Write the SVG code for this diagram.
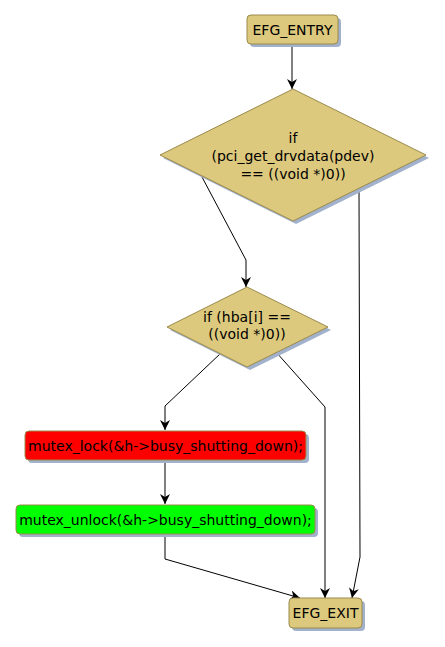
<svg xmlns="http://www.w3.org/2000/svg" width="445" height="647" viewBox="0 0 445 647">
<style>
.t{font-family:"DejaVu Sans",sans-serif;font-size:14px;fill:#000;text-anchor:middle}
.tl{font-family:"DejaVu Sans",sans-serif;font-size:14px;fill:#000}
.n{fill:#dcc97d;stroke:#9a8a4c;stroke-width:1}
.s{fill:#a3b2cc}
.c{fill:none;stroke:#000;stroke-width:1}
</style>
<defs>
<marker id="a" markerWidth="12" markerHeight="12" refX="10" refY="5" orient="auto" markerUnits="userSpaceOnUse">
<path d="M0,0 L10,5 L0,10 L3,5 Z" fill="#000"/>
</marker>
</defs>
<g id="connectors">
<path class="c" d="M292,44 V89" marker-end="url(#a)"/>
<path class="c" d="M202,177 L246,260 V287" marker-end="url(#a)"/>
<path class="c" d="M359,188 L360,557 L352,598" marker-end="url(#a)"/>
<path class="c" d="M221,353 L165,406 V430" marker-end="url(#a)"/>
<path class="c" d="M276,352 L325,407 V598" marker-end="url(#a)"/>
<path class="c" d="M165,460 V504" marker-end="url(#a)"/>
<path class="c" d="M165,534 V559 L300,598" marker-end="url(#a)"/>
</g>
<g id="entry">
<rect class="s" x="250" y="18" width="91" height="29" rx="4"/>
<rect class="n" x="247" y="15" width="91" height="29" rx="4"/>
<text class="t" x="292.5" y="34.5">EFG_ENTRY</text>
</g>
<g id="if1">
<polygon class="s" points="296,92 429,158 296,224 163,158"/>
<polygon class="n" points="293,89 426,155 293,221 160,155"/>
<text class="t" x="293" y="143">if</text>
<text class="t" x="293" y="161">(pci_get_drvdata(pdev)</text>
<text class="t" x="293" y="179">== ((void *)0))</text>
</g>
<g id="if2">
<polygon class="s" points="250,290 331,330 250,370 170,330"/>
<polygon class="n" points="247,287 328,327 247,367 167,327"/>
<text class="t" x="247" y="322">if (hba[i] ==</text>
<text class="t" x="247" y="339">((void *)0))</text>
</g>
<g id="lock">
<rect class="s" x="28" y="434" width="281" height="29" rx="4"/>
<rect x="25" y="431" width="281" height="29" rx="4" fill="#ff0000" stroke="#9a8a4c"/>
<text class="t" x="165.5" y="450.5">mutex_lock(&amp;h-&gt;busy_shutting_down);</text>
</g>
<g id="unlock">
<rect class="s" x="19" y="508" width="299" height="29" rx="4"/>
<rect x="16" y="505" width="299" height="29" rx="4" fill="#00ff00" stroke="#9a8a4c"/>
<text class="t" x="165.5" y="524.5">mutex_unlock(&amp;h-&gt;busy_shutting_down);</text>
</g>
<g id="exit">
<rect class="s" x="292" y="601" width="73" height="30" rx="4"/>
<rect class="n" x="289" y="598" width="73" height="30" rx="4"/>
<text class="t" x="325.5" y="618">EFG_EXIT</text>
</g>
</svg>
